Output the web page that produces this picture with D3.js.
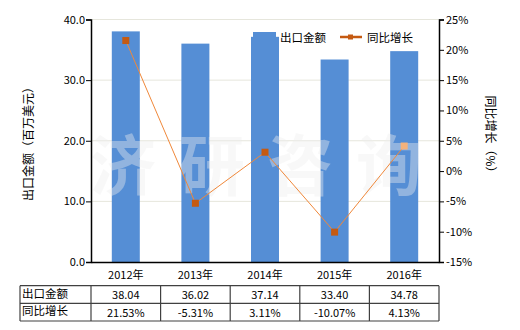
<!DOCTYPE html>
<html>
<head>
<meta charset="utf-8">
<script src="https://cdn.jsdelivr.net/npm/d3@7"></script>
<style>
  body { margin: 0; background: #fff; }
  text { font-family: "Noto Sans CJK SC", "Noto Sans", sans-serif; fill: #000; }
</style>
</head>
<body>
<svg id="chart" width="520" height="330"></svg>
<script>
// chart data
var years = ["2012年", "2013年", "2014年", "2015年", "2016年"];
var exportValue = [38.04, 36.02, 37.14, 33.40, 34.78];
var growth = [21.53, -5.31, 3.11, -10.07, 4.13];
var leftTicks = [0, 10, 20, 30, 40];
var rightTicks = [-15, -10, -5, 0, 5, 10, 15, 20, 25];
var rowNames = ["出口金额", "同比增长"];
var watermark = ["济", "研", "咨", "询"];

var barColor = "#558ed5", lineColor = "#f0883a", markColor = "#c55a11";

// plot box (don't call it "top", that's window.top)
var pL = 91, pR = 439, pT = 19.5, pB = 262;

var svg = d3.select("#chart");

var xc = d3.scaleBand().domain(years).range([pL, pR]);
var yL = d3.scaleLinear().domain([0, 40]).range([pB, pT]);
var yR = d3.scaleLinear().domain([-15, 25]).range([pB, pT]);
var mid = function(i) { return xc(years[i]) + xc.bandwidth() / 2; };

// grid
svg.append("g").selectAll("line")
  .data(leftTicks.slice(1))
  .enter().append("line")
  .attr("x1", pL).attr("x2", pR)
  .attr("y1", d => yL(d)).attr("y2", d => yL(d))
  .style("stroke", "#e6e6dc").style("stroke-width", 1);

// bars
svg.append("g").selectAll("rect")
  .data(exportValue)
  .enter().append("rect")
  .attr("x", (d, i) => mid(i) - 14)
  .attr("width", 28)
  .attr("y", d => yL(d))
  .attr("height", d => pB - yL(d))
  .style("fill", barColor);

// watermark, one glyph at a time
var wm = d3.scalePoint().domain(watermark).range([123, 389]);
svg.append("g").selectAll("text")
  .data(watermark)
  .enter().append("text")
  .attr("x", d => wm(d)).attr("y", 190)
  .attr("text-anchor", "middle")
  .style("font-size", "66px").style("font-weight", "bold")
  .style("fill", "#eeeeee").style("fill-opacity", 0.4)
  .text(d => d);

// line
var line = d3.line()
  .x((d, i) => mid(i))
  .y(d => yR(d));
svg.append("path")
  .datum(growth)
  .attr("d", line)
  .style("fill", "none").style("stroke", lineColor).style("stroke-width", 1);

svg.append("g").selectAll("rect")
  .data(growth)
  .enter().append("rect")
  .attr("x", (d, i) => mid(i) - 3.5)
  .attr("y", d => yR(d) - 3.5)
  .attr("width", 7).attr("height", 7)
  .style("fill", (d, i) => i == 4 ? "#f5b27c" : markColor);

// axes
var axL = svg.append("g").attr("transform", "translate(" + pL + ",0)")
  .call(d3.axisLeft(yL).tickValues(leftTicks).tickFormat(d3.format(".1f")).tickSizeOuter(0).tickSize(5));
var axR = svg.append("g").attr("transform", "translate(" + pR + ",0)")
  .call(d3.axisRight(yR).tickValues(rightTicks).tickFormat(d => d + "%").tickSizeOuter(0).tickSize(5));
var axB = svg.append("g").attr("transform", "translate(0," + pB + ")")
  .call(d3.axisBottom(xc).tickSize(0).tickSizeOuter(0));
[axL, axR, axB].forEach(function(a) {
  a.select(".domain").style("stroke", "#000").style("stroke-width", 1.5);
  a.selectAll(".tick line").style("stroke", "#000");
  a.selectAll("text").style("font-size", "11px").style("font-family", "'Noto Sans CJK SC', sans-serif");
});
axL.selectAll("text").attr("x", -6);
axR.selectAll("text").attr("x", 7);
axB.selectAll("text").attr("dy", "1.25em");

// axis titles
svg.append("text")
  .attr("transform", "translate(29,141) rotate(-90)")
  .attr("text-anchor", "middle").attr("dy", "0.35em")
  .style("font-size", "12px")
  .text("出口金额（百万美元）");
svg.append("text")
  .attr("transform", "translate(490,137) rotate(90)")
  .attr("text-anchor", "middle").attr("dy", "0.35em")
  .style("font-size", "12px")
  .text("同比增长（%）");

// legend
svg.append("rect").attr("x", 253).attr("y", 32).attr("width", 23).attr("height", 12).style("fill", barColor);
svg.append("text").attr("x", 280).attr("y", 38).attr("dy", "0.35em").style("font-size", "11.5px").text("出口金额");
svg.append("line").attr("x1", 340).attr("x2", 362).attr("y1", 37).attr("y2", 37)
  .style("stroke", markColor).style("stroke-width", 2.5);
svg.append("rect").attr("x", 348).attr("y", 34.5).attr("width", 5).attr("height", 5).style("fill", markColor);
svg.append("text").attr("x", 367).attr("y", 38).attr("dy", "0.35em").style("font-size", "11.5px").text("同比增长");

// data table
var tLeft = 20, rowY = [285.7, 303.3, 321];
var colX = [tLeft].concat(years.map(d => xc(d))).concat([pR]);
var tbl = svg.append("g").style("stroke", "#404040").style("stroke-width", 1.2);
rowY.forEach(function(yy) {
  tbl.append("line").attr("x1", tLeft).attr("x2", pR).attr("y1", yy).attr("y2", yy);
});
colX.forEach(function(xx) {
  tbl.append("line").attr("x1", xx).attr("x2", xx).attr("y1", rowY[0]).attr("y2", rowY[2]);
});
rowNames.forEach(function(n, r) {
  svg.append("text").attr("x", tLeft + 2).attr("y", (rowY[r] + rowY[r + 1]) / 2 - 1)
    .attr("dy", "0.35em").style("font-size", "11.5px").text(n);
});
var rows = [exportValue.map(d => d.toFixed(2)), growth.map(d => d.toFixed(2) + "%")];
rows.forEach(function(vals, r) {
  svg.append("g").selectAll("text")
    .data(vals)
    .enter().append("text")
    .attr("x", (d, i) => mid(i))
    .attr("y", (rowY[r] + rowY[r + 1]) / 2 + 1)
    .attr("dy", "0.35em")
    .attr("text-anchor", "middle")
    .style("font-size", "11px")
    .text(d => d);
});
</script>
</body>
</html>
